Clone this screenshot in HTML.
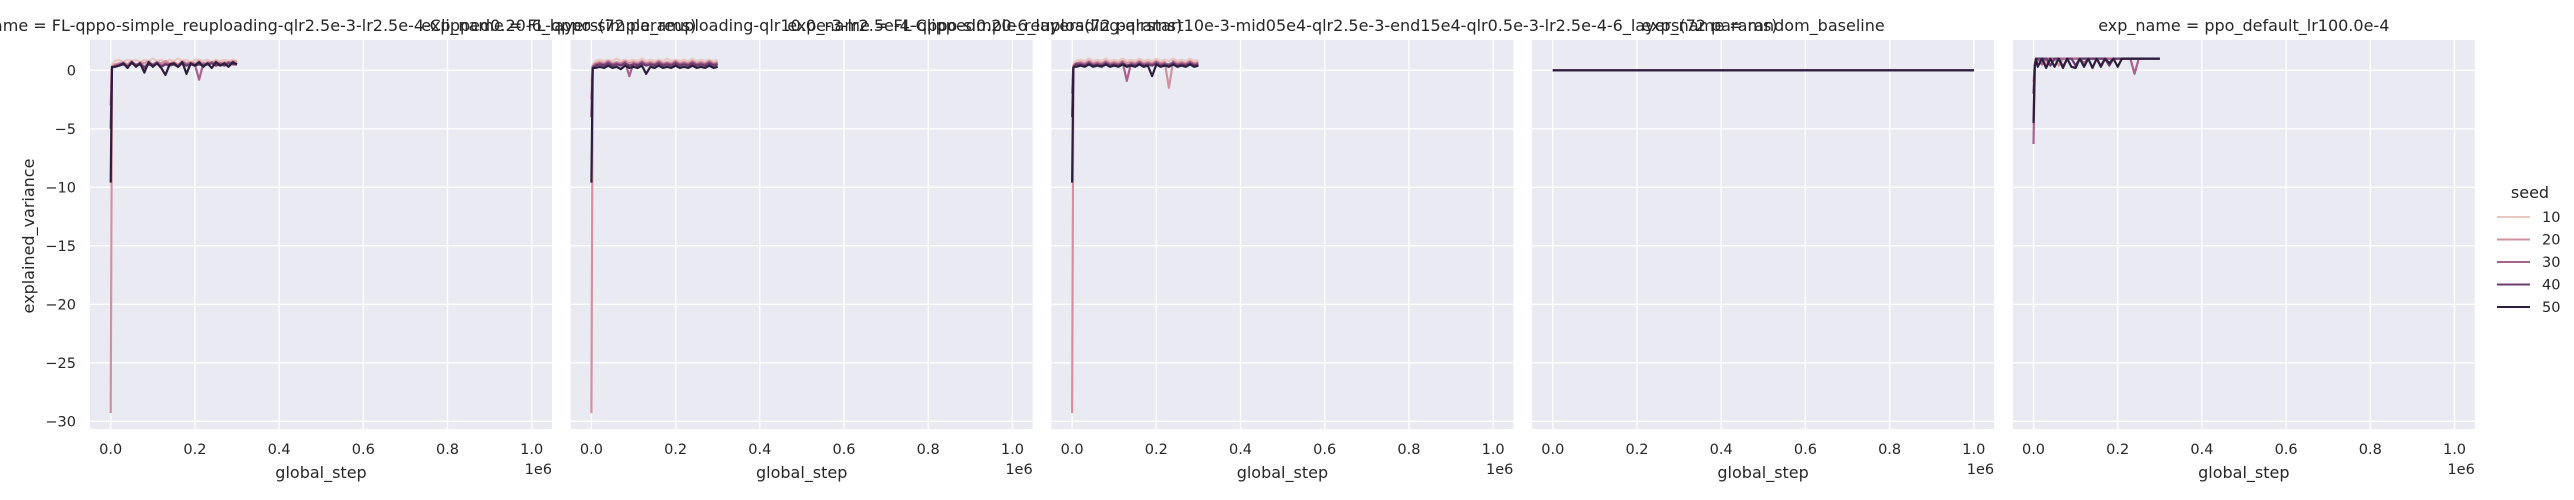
<!DOCTYPE html>
<html><head><meta charset="utf-8">
<style>
html,body{margin:0;padding:0;background:#fff;}
svg{display:block;font-family:"DejaVu Sans","Liberation Sans",sans-serif;}
</style></head>
<body>
<svg id="chart" width="2574" height="500" viewBox="0 0 2574 500" xmlns="http://www.w3.org/2000/svg"></svg>
<script>
const panelTitles = [
 "exp_name = FL-qppo-simple_reuploading-qlr2.5e-3-lr2.5e-4-Clipped0.20-6_layers(72 params)",
 "exp_name = FL-qppo-simple_reuploading-qlr10.0e-3-lr2.5e-4-Clipped0.20-6_layers(72 params)",
 "exp_name = FL-qppo-simple_reuploading-qlrstart10e-3-mid05e4-qlr2.5e-3-end15e4-qlr0.5e-3-lr2.5e-4-6_layers(72 params)",
 "exp_name = random_baseline",
 "exp_name = ppo_default_lr100.0e-4"
];
const seeds = [10,20,30,40,50];
const seedColors = ["#ebc7c2","#d1929f","#a8628c","#6c3b6f","#2d1e3e"];
const xTicks = [0,0.2,0.4,0.6,0.8,1.0];
const yTicks = [0,-5,-10,-15,-20,-25,-30];
const steps = [0,3000,6000,10000,20000,30000,40000,50000,60000,70000,80000,90000,100000,110000,120000,130000,140000,150000,160000,170000,180000,190000,200000,210000,220000,230000,240000,250000,260000,270000,280000,290000,300000];
const stepsFlat = [0,1000000];
const p1s10 = [-1.5,0.5,0.6,0.8,0.9,0.7,0.9,0.8,0.9,0.7,0.9,0.8,1.0,0.8,0.9,0.7,0.9,0.8,1.0,0.8,0.9,0.7,0.9,0.9,0.8,0.9,0.7,0.9,0.8,0.9,0.8,0.9,0.8];
const p1s20 = [-29.3,0.2,0.4,0.5,0.6,0.7,0.5,0.8,0.4,0.7,0.6,0.8,0.5,0.7,0.6,0.8,0.6,0.7,0.5,0.8,0.6,0.7,0.6,0.8,0.5,0.7,0.6,0.8,0.6,0.7,0.6,0.8,0.7];
const p1s30 = [-3.0,0.2,0.3,0.4,0.5,0.6,0.4,0.7,0.5,0.6,0.3,0.6,0.5,0.7,0.4,0.6,0.5,0.6,0.4,0.7,0.5,0.6,0.5,-0.8,0.6,0.5,0.7,0.5,0.6,0.5,0.7,0.6,0.5];
const p1s40 = [-5.0,0.2,0.3,0.3,0.4,0.5,0.3,0.6,0.4,0.5,0.2,0.5,0.4,0.6,0.3,0.5,0.4,0.5,0.3,0.6,0.4,0.5,0.4,0.5,0.4,0.5,0.6,0.4,0.5,0.4,0.6,0.5,0.5];
const p1s50 = [-9.6,0.3,0.3,0.3,0.4,0.6,0.2,0.7,0.3,0.6,-0.2,0.7,0.3,0.6,0.2,-0.4,0.5,0.6,0.3,0.7,-0.3,0.6,0.4,0.7,0.3,0.6,0.2,0.7,0.4,0.6,0.3,0.7,0.5];
const p2s10 = [-1.0,0.5,0.6,0.8,0.9,0.8,0.9,0.8,1.0,0.8,0.9,0.8,0.9,0.8,1.0,0.8,0.9,0.8,0.9,0.8,1.0,0.8,0.9,0.8,0.9,0.8,1.0,0.8,0.9,0.8,0.9,0.8,0.9];
const p2s20 = [-29.3,0.3,0.5,0.6,0.7,0.6,0.8,0.6,0.7,0.6,0.8,0.6,0.7,0.6,0.8,0.6,0.7,0.6,0.8,0.6,0.7,0.6,0.8,0.6,0.7,0.6,0.8,0.6,0.7,0.6,0.8,0.6,0.7];
const p2s30 = [-2.5,0.3,0.4,0.5,0.6,0.5,0.7,0.5,0.6,0.5,0.7,-0.5,0.6,0.5,0.7,0.5,0.6,0.5,0.7,0.5,0.6,0.5,0.7,0.5,0.6,0.5,0.7,0.5,0.6,0.5,0.7,0.5,0.6];
const p2s40 = [-4.0,0.2,0.3,0.4,0.5,0.4,0.6,0.4,0.5,0.4,0.6,0.4,0.5,0.4,0.6,0.4,0.5,0.4,0.6,0.4,0.5,0.4,0.6,0.4,0.5,0.4,0.6,0.4,0.5,0.4,0.6,0.4,0.5];
const p2s50 = [-9.6,0.2,0.2,0.2,0.3,0.2,0.4,0.2,0.3,0.1,0.4,0.2,0.3,0.2,0.4,-0.3,0.3,0.2,0.4,0.2,0.3,0.2,0.4,0.2,0.3,0.2,0.4,0.2,0.3,0.2,0.4,0.2,0.3];
const p3s10 = [-1.0,0.5,0.7,0.8,0.9,0.8,1.0,0.8,0.9,0.8,1.0,0.8,0.9,0.8,1.0,0.8,0.9,0.8,1.0,0.8,0.9,0.8,1.0,0.8,0.9,0.8,1.0,0.8,0.9,0.8,1.0,0.8,0.9];
const p3s20 = [-29.3,0.3,0.5,0.6,0.7,0.6,0.8,0.6,0.7,0.6,0.8,0.6,0.7,0.6,0.8,0.6,0.7,0.6,0.8,0.6,0.7,0.6,0.8,0.6,0.7,-1.5,0.8,0.6,0.7,0.6,0.8,0.6,0.7];
const p3s30 = [-2.0,0.3,0.5,0.6,0.6,0.5,0.7,0.5,0.6,0.5,0.7,0.5,0.6,0.5,0.7,-0.9,0.6,0.5,0.7,0.5,0.6,0.5,0.7,0.5,0.6,0.5,0.7,0.5,0.6,0.5,0.7,0.5,0.6];
const p3s40 = [-4.0,0.2,0.4,0.5,0.5,0.4,0.6,0.4,0.5,0.4,0.6,0.4,0.5,0.4,0.6,0.4,0.5,0.4,0.6,0.4,0.5,0.4,0.6,0.4,0.5,0.4,0.6,0.4,0.5,0.4,0.6,0.4,0.5];
const p3s50 = [-9.6,0.2,0.3,0.3,0.4,0.3,0.5,0.3,0.4,0.3,0.5,0.3,0.4,0.3,0.5,0.3,0.4,0.3,0.5,0.3,0.4,-0.5,0.5,0.3,0.4,0.3,0.5,0.3,0.4,0.3,0.5,0.3,0.4];
const p4s10 = [0,0];
const p4s20 = [0,0];
const p4s30 = [0,0];
const p4s40 = [0,0];
const p4s50 = [0,0];
const p5s10 = [-3.5,0.6,1.0,1.0,0.6,1.0,0.5,1.0,1.0,1.0,1.0,1.0,1.0,1.0,1.0,1.0,1.0,1.0,1.0,1.0,1.0,1.0,1.0,1.0,1.0,1.0,1.0,1.0,1.0,1.0,1.0,1.0,1.0];
const p5s20 = [-1.0,0.5,1.0,1.0,1.0,0.5,1.0,1.0,0.4,1.0,1.0,1.0,1.0,1.0,1.0,1.0,1.0,1.0,1.0,1.0,1.0,1.0,1.0,1.0,1.0,1.0,1.0,1.0,1.0,1.0,1.0,1.0,1.0];
const p5s30 = [-6.3,0.4,0.9,1.0,0.5,1.0,1.0,1.0,1.0,1.0,1.0,1.0,1.0,1.0,0.6,1.0,1.0,1.0,0.4,1.0,1.0,1.0,1.0,1.0,1.0,1.0,-0.3,1.0,1.0,1.0,1.0,1.0,1.0];
const p5s40 = [-2.0,0.5,1.0,1.0,1.0,1.0,0.4,1.0,1.0,0.3,1.0,1.0,0.4,1.0,1.0,1.0,1.0,1.0,1.0,1.0,0.4,1.0,1.0,1.0,1.0,1.0,1.0,1.0,1.0,1.0,1.0,1.0,1.0];
const p5s50 = [-4.5,0.3,1.0,0.3,1.0,0.2,1.0,0.3,1.0,0.2,1.0,0.3,0.2,1.0,0.3,1.0,0.2,1.0,0.3,1.0,0.6,1.0,0.3,1.0,1.0,1.0,1.0,1.0,1.0,1.0,1.0,1.0,1.0];

const panelSteps = [steps, steps, steps, stepsFlat, steps];
const panelSeries = [
 [p1s10,p1s20,p1s30,p1s40,p1s50],
 [p2s10,p2s20,p2s30,p2s40,p2s50],
 [p3s10,p3s20,p3s30,p3s40,p3s50],
 [p4s10,p4s20,p4s30,p4s40,p4s50],
 [p5s10,p5s20,p5s30,p5s40,p5s50]
];

const NS = "http://www.w3.org/2000/svg";
const svg = document.getElementById("chart");
const PANEL_LEFT0 = 90, PANEL_W = 462, PANEL_STRIDE = 480.7, PANEL_TOP = 40, PANEL_BOTTOM = 429;
const X_MIN = -0.0492e6, X_MAX = 1.0482e6;
const Y0PX = 70.3, PX_PER_UNIT = 11.7;
function el(tag, attrs, parent){
  const e = document.createElementNS(NS, tag);
  for (const k in attrs) e.setAttribute(k, attrs[k]);
  (parent||svg).appendChild(e);
  return e;
}
function xScale(p, v){ const left = PANEL_LEFT0 + p*PANEL_STRIDE; return left + (v - X_MIN)/(X_MAX - X_MIN)*PANEL_W; }
function yScale(v){ return Y0PX - v*PX_PER_UNIT; }

for (let p=0; p<5; p++){
  const left = PANEL_LEFT0 + p*PANEL_STRIDE;
  const g = el("g", {});
  
  
  const bg = el("rect", {x:left, y:PANEL_TOP, width:PANEL_W, height:PANEL_BOTTOM-PANEL_TOP, fill:"#eaeaf2"}, g);
  
  
  yTicks.forEach(t=>{
    const y = yScale(t);
    const gl = el("line", {x1:left, x2:left+PANEL_W, y1:y, y2:y, stroke:"#fff", "stroke-width":1.3}, g);
    
    
    if (p===0){
      const tl = el("text", {x:76, y:y+5, "text-anchor":"end", "font-size":"14.5", fill:"#262626"}, g);
      tl.textContent = t < 0 ? "\u2212" + Math.abs(t) : String(t);
      
      
    }
  });
  xTicks.forEach(t=>{
    const x = xScale(p, t*1e6);
    const gl = el("line", {x1:x, x2:x, y1:PANEL_TOP, y2:PANEL_BOTTOM, stroke:"#fff", "stroke-width":1.3}, g);
    
    
    const tl = el("text", {x:x, y:454, "text-anchor":"middle", "font-size":"14.5", fill:"#262626"}, g);
    tl.textContent = t.toFixed(1);
    
    
  });
  const st = panelSteps[p];
  panelSeries[p].forEach((vals, si)=>{
    let d = "";
    vals.forEach((v,i)=>{ d += (i?"L":"M") + xScale(p, st[i]).toFixed(2) + "," + yScale(v).toFixed(2); });
    const path = el("path", {d:d, fill:"none", stroke:seedColors[si], "stroke-width":2.2, "stroke-linejoin":"round"}, g);
    
    
  });
  const xl = el("text", {x:left+PANEL_W/2, y:478, "text-anchor":"middle", "font-size":"16", fill:"#262626"}, g);
  xl.textContent = "global_step";
  
  
  const off = el("text", {x:left+PANEL_W, y:474, "text-anchor":"end", "font-size":"14.5", fill:"#262626"}, g);
  off.textContent = "1e6";
  
  
  const tt = el("text", {x:left+PANEL_W/2, y:31, "text-anchor":"middle", "font-size":"16", fill:"#262626"}, g);
  tt.textContent = panelTitles[p];
  
  
}
const yl = el("text", {x:0, y:0, transform:"translate(34,236) rotate(-90)", "text-anchor":"middle", "font-size":"16", fill:"#262626"});
yl.textContent = "explained_variance";



const lg = el("g", {});


const lt = el("text", {x:2530, y:198, "text-anchor":"middle", "font-size":"16", fill:"#262626"}, lg);
lt.textContent = "seed";


seeds.forEach((s,i)=>{
  const y = 217 + i*22.5;
  const ln = el("line", {x1:2497, x2:2530, y1:y, y2:y, stroke:seedColors[i], "stroke-width":2}, lg);
  
  
  const tx = el("text", {x:2542, y:y+5, "font-size":"14.5", fill:"#262626"}, lg);
  tx.textContent = String(s);
  
  
});
</script>
</body></html>
